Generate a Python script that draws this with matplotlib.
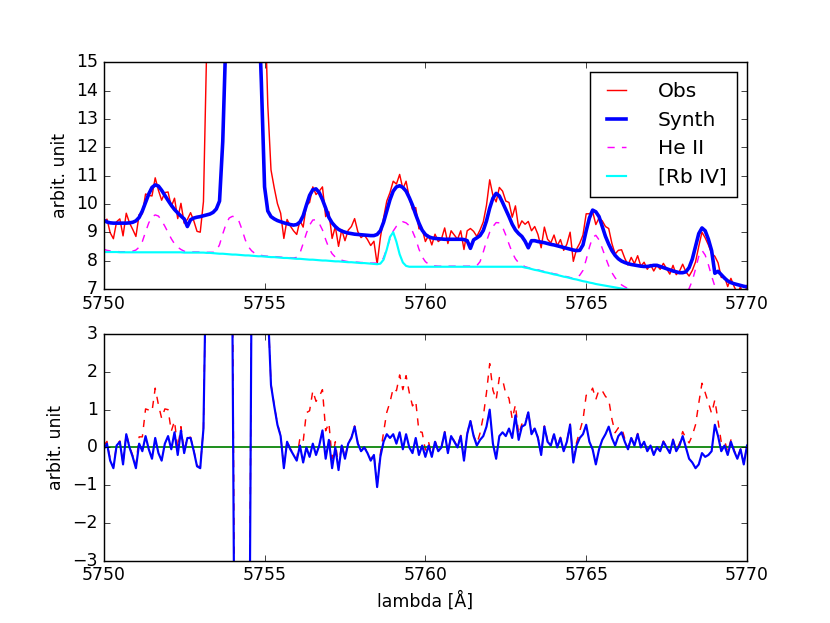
import numpy as np
import matplotlib
matplotlib.use('Agg')
import matplotlib.pyplot as plt

# wavelength grid [A], 0.1 A steps
wave = np.linspace(5750.0, 5770.0, 201)

# synthetic spectrum, one row per Angstrom
synth = [
    9.42, 9.36, 9.33, 9.32, 9.32, 9.32, 9.32, 9.32, 9.33, 9.35,     # 5750
    9.40, 9.52, 9.75, 10.05, 10.35, 10.58, 10.67, 10.63, 10.48, 10.30,  # 5751
    10.12, 9.95, 9.80, 9.68, 9.57, 9.47, 9.20, 9.44, 9.50, 9.53,   # 5752
    9.55, 9.58, 9.61, 9.64, 9.70, 9.82, 10.10, 12.20, 16.0, 22.0,  # 5753
    30.0, 45.0, 55.0, 58.0, 56.0, 44.0, 28.0, 20.0, 17.5, 14.3,    # 5754
    10.60, 9.75, 9.55, 9.47, 9.41, 9.37, 9.33, 9.30, 9.27, 9.25,   # 5755
    9.27, 9.36, 9.58, 9.95, 10.30, 10.50, 10.53, 10.40, 10.15, 9.85,  # 5756
    9.52, 9.33, 9.20, 9.10, 9.04, 9.00, 8.97, 8.95, 8.93, 8.92,    # 5757
    8.91, 8.90, 8.89, 8.88, 8.88, 8.92, 9.05, 9.35, 9.75, 10.15,   # 5758
    10.45, 10.60, 10.64, 10.58, 10.45, 10.22, 9.95, 9.62, 9.32, 9.07,  # 5759
    8.92, 8.84, 8.80, 8.78, 8.77, 8.76, 8.75, 8.75, 8.75, 8.75,    # 5760
    8.75, 8.75, 8.74, 8.70, 8.43, 8.73, 8.80, 8.88, 9.06, 9.40,    # 5761
    9.85, 10.20, 10.37, 10.28, 10.05, 9.80, 9.55, 9.28, 9.08, 8.95,  # 5762
    8.85, 8.68, 8.45, 8.70, 8.70, 8.67, 8.65, 8.63, 8.60, 8.57,    # 5763
    8.55, 8.52, 8.49, 8.46, 8.43, 8.40, 8.37, 8.35, 8.36, 8.55,    # 5764
    9.05, 9.50, 9.78, 9.72, 9.55, 9.20, 8.85, 8.58, 8.35, 8.18,    # 5765
    8.06, 7.98, 7.93, 7.89, 7.86, 7.84, 7.82, 7.80, 7.79, 7.79,    # 5766
    7.81, 7.83, 7.83, 7.79, 7.75, 7.71, 7.67, 7.63, 7.60, 7.57,    # 5767
    7.57, 7.60, 7.75, 8.05, 8.50, 8.95, 9.15, 9.05, 8.75, 8.35,    # 5768
    7.55, 7.62, 7.50, 7.38, 7.28, 7.22, 7.18, 7.15, 7.12, 7.09,    # 5769
    7.07,
]

# residual Obs - Synth
resid = [
    -0.05, 0.10, -0.35, -0.55, 0.05, 0.15, -0.45, 0.35, 0.00, -0.25,   # 5750
    -0.55, 0.10, -0.10, 0.30, -0.05, -0.30, 0.25, -0.15, -0.35, 0.10,  # 5751
    0.30, -0.05, 0.40, -0.20, 0.45, -0.15, 0.25, 0.25, -0.10, -0.50,   # 5752
    -0.55, 0.50, 5.9, 12.4, 16.3, 18.2, 19.9, 18.8, 16.0, 11.0,        # 5753
    3.5, -11.0, -21.0, -24.0, -22.0, -10.5, 5.0, 11.0, 9.5, 7.7,       # 5754
    6.9, 3.75, 1.65, 1.10, 0.60, 0.30, -0.55, 0.15, -0.05, -0.20,      # 5755
    -0.35, 0.05, -0.40, 0.00, -0.25, 0.10, -0.20, 0.05, 0.45, -0.30,   # 5756
    0.20, -0.55, 0.00, -0.60, 0.05, -0.30, 0.10, 0.25, 0.55, 0.10,     # 5757
    -0.10, 0.00, -0.15, -0.35, -0.20, -1.05, -0.25, 0.15, 0.35, 0.25,  # 5758
    0.35, 0.10, 0.40, -0.05, 0.35, 0.00, -0.15, 0.25, -0.20, 0.05,     # 5759
    -0.25, 0.05, -0.25, 0.15, -0.10, 0.00, 0.40, -0.15, 0.30, 0.15,    # 5760
    0.00, 0.30, -0.35, 0.35, 0.70, 0.30, 0.05, 0.20, 0.30, 0.55,       # 5761
    1.00, 0.10, -0.30, 0.30, 0.40, 0.30, 0.50, 0.25, 0.85, 0.20,       # 5762
    0.55, 0.60, 0.93, 0.35, 0.50, 0.25, -0.20, 0.55, 0.15, 0.05,       # 5763
    0.35, 0.00, 0.25, -0.10, 0.15, 0.60, -0.40, 0.05, 0.25, 0.35,      # 5764
    0.60, 0.15, -0.05, -0.45, -0.05, 0.20, 0.35, 0.55, 0.25, 0.05,     # 5765
    0.30, 0.40, 0.15, -0.05, 0.25, 0.05, 0.35, 0.00, 0.15, -0.10,      # 5766
    0.05, -0.20, 0.00, -0.10, 0.15, 0.00, -0.15, 0.20, -0.10, 0.05,    # 5767
    0.30, 0.00, -0.30, -0.40, -0.55, -0.45, -0.15, -0.25, -0.20, -0.10,  # 5768
    0.60, 0.30, -0.10, 0.05, -0.20, 0.15, -0.10, -0.30, -0.05, -0.45,  # 5769
    0.05,
]

# continuum under the lines
cont = [
    8.30, 8.30, 8.30, 8.30, 8.30, 8.29, 8.29, 8.29, 8.29, 8.29,   # 5750
    8.29, 8.29, 8.29, 8.29, 8.29, 8.29, 8.29, 8.29, 8.29, 8.29,   # 5751
    8.29, 8.29, 8.29, 8.29, 8.29, 8.28, 8.28, 8.28, 8.28, 8.28,   # 5752
    8.28, 8.28, 8.27, 8.27, 8.26, 8.25, 8.24, 8.24, 8.23, 8.22,   # 5753
    8.21, 8.21, 8.20, 8.19, 8.18, 8.18, 8.17, 8.16, 8.15, 8.15,   # 5754
    8.14, 8.13, 8.12, 8.12, 8.11, 8.10, 8.09, 8.09, 8.08, 8.07,   # 5755
    8.06, 8.06, 8.05, 8.04, 8.03, 8.03, 8.02, 8.01, 8.00, 8.00,   # 5756
    7.99, 7.98, 7.97, 7.97, 7.96, 7.95, 7.94, 7.94, 7.93, 7.92,   # 5757
    7.91, 7.91, 7.90, 7.89, 7.88, 7.87, 7.86, 7.85, 7.84, 7.83,   # 5758
    7.82, 7.81, 7.80, 7.79, 7.78, 7.78, 7.78, 7.78, 7.78, 7.78,   # 5759
    7.78, 7.78, 7.78, 7.78, 7.78, 7.78, 7.78, 7.78, 7.78, 7.78,   # 5760
    7.78, 7.78, 7.78, 7.78, 7.78, 7.78, 7.78, 7.78, 7.78, 7.78,   # 5761
    7.78, 7.78, 7.78, 7.78, 7.78, 7.78, 7.78, 7.78, 7.78, 7.78,   # 5762
    7.78, 7.75, 7.73, 7.70, 7.67, 7.65, 7.62, 7.59, 7.57, 7.54,   # 5763
    7.51, 7.49, 7.46, 7.43, 7.41, 7.38, 7.35, 7.33, 7.30, 7.27,   # 5764
    7.25, 7.22, 7.20, 7.17, 7.15, 7.13, 7.11, 7.09, 7.07, 7.05,   # 5765
    7.03, 7.01, 6.99, 6.97, 6.95, 6.93, 6.91, 6.89, 6.87, 6.85,   # 5766
    6.83, 6.81, 6.79, 6.77, 6.75, 6.73, 6.71, 6.69, 6.67, 6.65,   # 5767
    6.63, 6.61, 6.59, 6.57, 6.55, 6.53, 6.51, 6.49, 6.47, 6.45,   # 5768
    6.43, 6.41, 6.39, 6.37, 6.35, 6.33, 6.31, 6.29, 6.27, 6.25,   # 5769
    6.23,
]

# He II line contribution above the continuum
heii = [
    0.10, 0.06, 0.04, 0.03, 0.02, 0.02, 0.02, 0.02, 0.03, 0.04,   # 5750
    0.08, 0.18, 0.38, 0.72, 1.04, 1.25, 1.32, 1.28, 1.12, 0.92,   # 5751
    0.70, 0.48, 0.30, 0.18, 0.10, 0.05, 0.03, 0.02, 0.02, 0.02,   # 5752
    0.02, 0.02, 0.02, 0.02, 0.03, 0.08, 0.32, 0.70, 1.05, 1.28,   # 5753
    1.35, 1.33, 1.20, 0.90, 0.55, 0.30, 0.17, 0.09, 0.05, 0.03,   # 5754
    0.02, 0.02, 0.02, 0.02, 0.02, 0.02, 0.02, 0.02, 0.02, 0.02,   # 5755
    0.05, 0.20, 0.55, 0.92, 1.22, 1.40, 1.42, 1.30, 1.08, 0.74,   # 5756
    0.45, 0.26, 0.15, 0.09, 0.05, 0.03, 0.02, 0.02, 0.02, 0.02,   # 5757
    0.02, 0.02, 0.02, 0.02, 0.03, 0.04, 0.08, 0.25, 0.58, 0.95,   # 5758
    1.22, 1.40, 1.52, 1.58, 1.55, 1.45, 1.25, 0.98, 0.62, 0.35,   # 5759
    0.18, 0.09, 0.05, 0.03, 0.02, 0.02, 0.02, 0.02, 0.02, 0.02,   # 5760
    0.02, 0.02, 0.02, 0.02, 0.02, 0.02, 0.04, 0.18, 0.52, 0.90,   # 5761
    1.22, 1.42, 1.56, 1.55, 1.40, 1.12, 0.80, 0.50, 0.28, 0.14,   # 5762
    0.07, 0.03, 0.02, 0.02, 0.02, 0.02, 0.02, 0.02, 0.02, 0.02,   # 5763
    0.02, 0.02, 0.02, 0.02, 0.02, 0.02, 0.02, 0.08, 0.18, 0.38,   # 5764
    0.78, 1.25, 1.62, 1.72, 1.58, 1.30, 1.00, 0.72, 0.50, 0.34,   # 5765
    0.22, 0.13, 0.08, 0.04, 0.02, 0.02, 0.02, 0.02, 0.02, 0.02,   # 5766
    0.02, 0.02, 0.02, 0.02, 0.02, 0.02, 0.02, 0.02, 0.02, 0.06,   # 5767
    0.12, 0.24, 0.42, 0.72, 1.15, 1.62, 1.85, 1.70, 1.38, 1.00,   # 5768
    0.66, 0.40, 0.24, 0.14, 0.08, 0.05, 0.03, 0.02, 0.01, 0.01,   # 5769
    0.01,
]

# [Rb IV] line contribution, only non-zero around 5759
rbiv = [0.0] * 201
rbiv_idx = [86, 87, 88, 89, 90, 91, 92, 93, 94]
rbiv_val = [0.03, 0.18, 0.55, 1.00, 1.18, 0.85, 0.42, 0.14, 0.03]
for i, v in zip(rbiv_idx, rbiv_val):
    rbiv[i] = v

synth = np.array(synth)
resid = np.array(resid)
cont = np.array(cont)
heii = np.array(heii)
rbiv = np.array(rbiv)
obs = synth + resid

plt.style.use('classic')
plt.rcParams['font.family'] = 'DejaVu Sans'

fig = plt.figure(figsize=(8, 6.005), dpi=103.75, facecolor='w')

ax1 = fig.add_subplot(211)
ax1.plot(wave, obs, color='#ff0000', lw=1, label='Obs')
ax1.plot(wave, synth, color='#0000ff', lw=2.5, label='Synth')
ax1.plot(wave, cont + heii, color='#ff00ff', ls='--', dashes=(5, 5), lw=1,
         label='He II')
ax1.plot(wave, cont + rbiv, color='#00ffff', lw=1.5, label='[Rb IV]')
ax1.set_xlim(5750, 5770)
ax1.set_ylim(7, 15)
ax1.set_ylabel('arbit. unit')
ax1.xaxis.get_major_formatter().set_useOffset(False)
ax1.legend(loc='upper right', fontsize=14, handlelength=1.55, handletextpad=1.3,
           labelspacing=0.47, borderpad=0.5, borderaxespad=0.5)

ax2 = fig.add_subplot(212)
ax2.plot(wave, resid + heii, color='#ff0000', ls='--', dashes=(5, 5), lw=1)
ax2.axhline(0, color='#008000', lw=1.2)
ax2.plot(wave, resid, color='#0000ff', lw=1.5)
ax2.set_xlim(5750, 5770)
ax2.set_ylim(-3, 3)
ax2.set_ylabel('arbit. unit')
ax2.set_xlabel(u'lambda [\u00c5]')
ax2.xaxis.get_major_formatter().set_useOffset(False)

fig.savefig('out.png', dpi=103.75, facecolor='w')
